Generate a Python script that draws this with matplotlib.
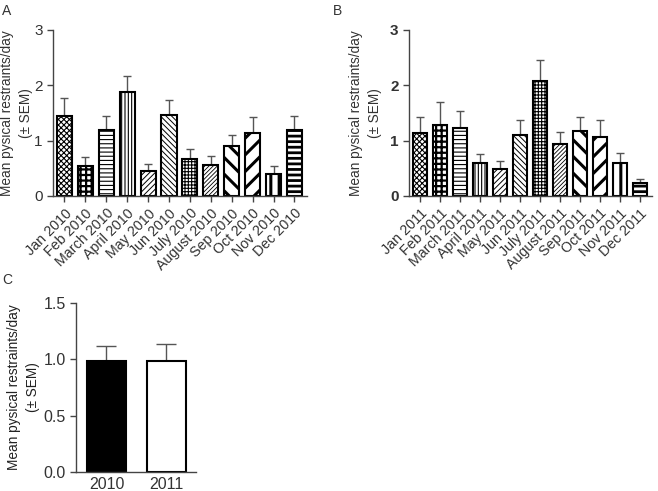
import matplotlib
matplotlib.use("Agg")
import matplotlib.pyplot as plt
import numpy as np

plt.rcParams['font.family'] = ['Liberation Sans', 'DejaVu Sans']

# panel A - 2010
months_2010 = ['Jan 2010', 'Feb 2010', 'March 2010', 'April 2010', 'May 2010', 'Jun 2010',
               'July 2010', 'August 2010', 'Sep 2010', 'Oct 2010', 'Nov 2010', 'Dec 2010']
mean_2010 = [1.45, 0.54, 1.20, 1.87, 0.45, 1.46, 0.67, 0.55, 0.90, 1.13, 0.39, 1.20]
upper_2010 = [1.77, 0.70, 1.44, 2.16, 0.57, 1.74, 0.84, 0.72, 1.10, 1.42, 0.54, 1.45]

# panel B - 2011
months_2011 = ['Jan 2011', 'Feb 2011', 'March 2011', 'April 2011', 'May 2011', 'Jun 2011',
               'July 2011', 'August 2011', 'Sep 2011', 'Oct 2011', 'Nov 2011', 'Dec 2011']
mean_2011 = [1.13, 1.29, 1.23, 0.60, 0.48, 1.10, 2.07, 0.93, 1.17, 1.07, 0.60, 0.23]
upper_2011 = [1.43, 1.70, 1.54, 0.76, 0.64, 1.37, 2.46, 1.16, 1.42, 1.37, 0.78, 0.30]

# panel C - yearly
years = ['2010', '2011']
mean_year = [0.98, 0.98]
upper_year = [1.12, 1.13]

# hatch per month and its line width
hatches = ['xxxxxx', '+++', '----', '|||||', '//////', '\\\\\\\\\\\\',
           '+++++', '////////', '\\\\', '//', '||', '---']
hatch_lw = [0.8, 1.6, 0.8, 0.8, 0.7, 0.7, 0.8, 0.6, 2.2, 2.2, 2.2, 2.0]

YLABEL = 'Mean pysical restraints/day\n(\u00b1 SEM)'
TXT = '#333333'


def style_axis(ax):
    for s in ['top', 'right']:
        ax.spines[s].set_visible(False)
    for s in ['left', 'bottom']:
        ax.spines[s].set_color('#444444')
        ax.spines[s].set_linewidth(1.0)
    ax.tick_params(direction='out', length=4, width=1.0, color='#444444', labelcolor=TXT)


def month_panel(ax, labels, means, uppers, label_x, bold_ticks=False):
    x = np.arange(len(labels))
    for i in range(len(labels)):
        plt.rcParams['hatch.linewidth'] = hatch_lw[i]
        b = ax.bar(x[i], means[i], width=0.72, color='white', edgecolor='black',
                   linewidth=1.5, hatch=hatches[i], zorder=2)
        for p in b.patches:
            try:
                p.set_hatch_linewidth(hatch_lw[i])
            except AttributeError:
                pass
    err = np.array(uppers) - np.array(means)
    ax.errorbar(x, means, yerr=[np.zeros(len(x)), err], fmt='none', ecolor='#555555',
                elinewidth=1.0, capsize=3, capthick=1.0, zorder=1)
    ax.set_xlim(-0.55, 11.6)
    ax.set_ylim(0, 3)
    ax.set_yticks([0, 1, 2, 3])
    ax.set_xticks(x)
    ax.set_xticklabels(labels, rotation=45, ha='right', rotation_mode='anchor', fontsize=10.3)
    style_axis(ax)
    ax.tick_params(axis='y', labelsize=11)
    if bold_ticks:
        for t in ax.get_yticklabels():
            t.set_fontweight('bold')
    ax.set_ylabel(YLABEL, fontsize=9.8, color=TXT, linespacing=1.45)
    ax.yaxis.set_label_coords(label_x, 0.5)


fig = plt.figure(figsize=(6.58, 4.91), dpi=100)

axA = fig.add_axes([0.0805, 0.601, 0.386, 0.338])
month_panel(axA, months_2010, mean_2010, upper_2010, -0.079)

axB = fig.add_axes([0.6216, 0.601, 0.369, 0.338])
month_panel(axB, months_2011, mean_2011, upper_2011, -0.111, bold_ticks=True)

axC = fig.add_axes([0.1155, 0.0387, 0.1824, 0.345])
xc = np.arange(len(years))
axC.bar(xc, mean_year, width=0.65, color=['black', 'white'], edgecolor='black',
        linewidth=1.5, zorder=2)
axC.errorbar(xc, mean_year, yerr=[np.zeros(2), np.array(upper_year) - np.array(mean_year)],
             fmt='none', ecolor='#555555', elinewidth=1.0, capsize=7, capthick=1.0, zorder=1)
axC.set_xlim(-0.51, 1.5)
axC.set_ylim(0, 1.5)
axC.set_yticks([0, 0.5, 1.0, 1.5])
axC.set_yticklabels(['0.0', '0.5', '1.0', '1.5'])
axC.set_xticks(xc)
axC.set_xticklabels(years)
style_axis(axC)
axC.tick_params(axis='x', length=0, labelsize=11.5)
axC.tick_params(axis='y', labelsize=11.5)
axC.set_ylabel(YLABEL, fontsize=9.8, color='#222222', linespacing=1.45)
axC.yaxis.set_label_coords(-0.30, 0.5)

fig.text(0.003, 0.992, 'A', fontsize=10, color=TXT, va='top')
fig.text(0.506, 0.992, 'B', fontsize=10, color=TXT, va='top')
fig.text(0.003, 0.445, 'C', fontsize=10, color=TXT, va='top')

fig.savefig('out.png', dpi=100)
